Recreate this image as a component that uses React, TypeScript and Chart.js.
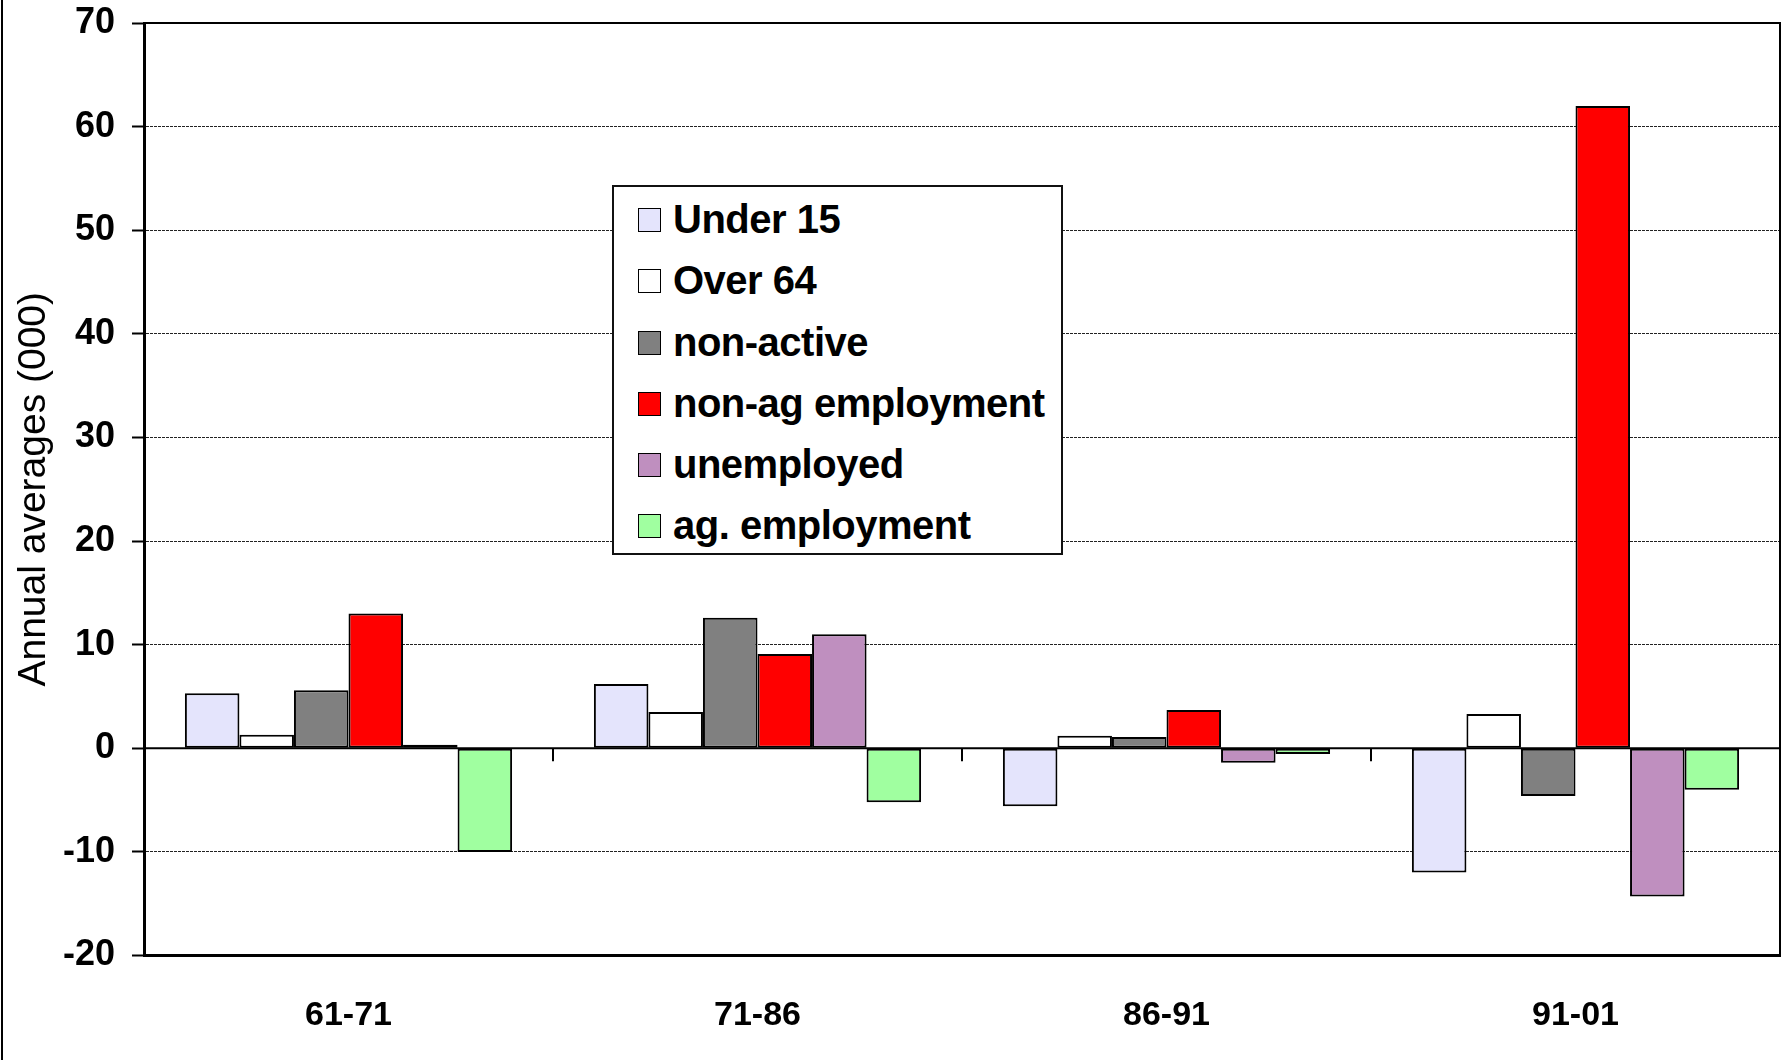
import React, { useEffect, useRef } from "react";
import { Chart, registerables } from "chart.js";

Chart.register(...registerables);

const categories = ["61-71", "71-86", "86-91", "91-01"];
const under15 = [5.3, 6.2, -5.6, -12.0];
const over64 = [1.3, 3.5, 1.2, 3.3];
const nonActive = [5.6, 12.6, 1.1, -4.6];
const nonAgEmployment = [13.0, 9.1, 3.7, 62.0];
const unemployed = [0.35, 11.0, -1.4, -14.3];
const agEmployment = [-10.0, -5.2, -0.55, -4.0];

const seriesNames = ["Under 15", "Over 64", "non-active", "non-ag employment", "unemployed", "ag. employment"];
const seriesColors = ["#E4E4FC", "#FFFFFF", "#808080", "#FF0000", "#BF8FBF", "#A0FFA0"];
const seriesValues = [under15, over64, nonActive, nonAgEmployment, unemployed, agEmployment];

const yMin = -20;
const yMax = 70;
const yStep = 10;
const yTitle = "Annual averages (000)";

const FONT = "'Liberation Sans', Arial, sans-serif";

const framePlugin = {
  id: "framePlugin",
  afterDatasetsDraw(chart: any) {
    const { ctx, chartArea, scales } = chart;
    const y = scales.y;
    const x = scales.x;
    const y0 = y.getPixelForValue(0);
    ctx.save();
    ctx.strokeStyle = "#000";
    ctx.lineWidth = 2;
    ctx.beginPath();
    ctx.moveTo(chartArea.left, y0);
    ctx.lineTo(chartArea.right, y0);
    ctx.stroke();
    const n = x.ticks.length;
    const w = (chartArea.right - chartArea.left) / n;
    for (let i = 1; i < n; i++) {
      const px = x.getPixelForValue(i) - w / 2;
      ctx.beginPath();
      ctx.moveTo(px, y0);
      ctx.lineTo(px, y0 + 13);
      ctx.stroke();
    }
    ctx.lineWidth = 2;
    ctx.beginPath();
    ctx.moveTo(chartArea.left, chartArea.top);
    ctx.lineTo(chartArea.right, chartArea.top);
    ctx.lineTo(chartArea.right, chartArea.bottom);
    ctx.stroke();
    ctx.restore();
  },
};

export default function App() {
  const canvasRef = useRef<HTMLCanvasElement | null>(null);

  useEffect(() => {
    document.body.style.margin = "0";
    const canvas = canvasRef.current;
    if (!canvas) return;
    const chart = new Chart(canvas, {
      type: "bar",
      data: {
        labels: categories,
        datasets: seriesNames.map((name, i) => ({
          label: name,
          data: seriesValues[i],
          backgroundColor: seriesColors[i],
          borderColor: "#000",
          borderWidth: 2,
          borderSkipped: false,
          categoryPercentage: 0.8,
          barPercentage: 1.0,
        })),
      },
      options: {
        animation: false,
        responsive: false,
        maintainAspectRatio: false,
        layout: { padding: { top: 23, right: 7, left: 0, bottom: 0 } },
        plugins: {
          legend: { display: false },
          tooltip: { enabled: false },
        },
        scales: {
          x: {
            grid: { display: false, drawTicks: false },
            border: { display: true, color: "#000", width: 3 },
            ticks: {
              color: "#000",
              font: { family: FONT, size: 34, weight: "bold" },
              padding: 40,
              maxRotation: 0,
            },
            afterFit(scale: any) {
              scale.height = 104.5;
              scale.paddingLeft = 0;
              scale.paddingRight = 0;
            },
          },
          y: {
            min: yMin,
            max: yMax,
            ticks: {
              stepSize: yStep,
              color: "#000",
              font: { family: FONT, size: 36, weight: "bold" },
              padding: 17,
            },
            grid: {
              color: (ctx: any) => (ctx.tick && ctx.tick.value === 0 ? "rgba(0,0,0,0)" : "#222"),
              lineWidth: 1,
              tickColor: "#000",
              tickLength: 12,
              tickWidth: 2,
              tickBorderDash: [],
            },
            border: { display: true, color: "#000", width: 3, dash: [3, 1] },
            title: {
              display: true,
              text: yTitle,
              color: "#000",
              font: { family: FONT, size: 39, weight: "normal" },
              padding: { top: 11, bottom: 0 },
            },
            afterFit(scale: any) {
              scale.width = 144;
              scale.paddingTop = 0;
              scale.paddingBottom = 0;
            },
          },
        },
      },
      plugins: [framePlugin],
    });
    return () => chart.destroy();
  }, []);

  return (
    <div style={{ position: "relative", width: 1787, height: 1060, background: "#fff", overflow: "hidden" }}>
      <canvas ref={canvasRef} width={1787} height={1060} style={{ position: "absolute", left: 0, top: 0, width: 1787, height: 1060 }} />
      <div style={{ position: "absolute", left: 1, top: 0, width: 2, height: 1060, background: "#000" }} />
      <div
        style={{
          position: "absolute",
          left: 612,
          top: 185,
          width: 447,
          height: 363,
          border: "2px solid #111",
          background: "#fff",
          boxSizing: "content-box",
          paddingTop: 3,
        }}
      >
        {seriesNames.map((name, i) => (
          <div key={name} style={{ height: 61.3, display: "flex", alignItems: "center", position: "relative" }}>
            <div
              style={{
                position: "absolute",
                left: 24,
                top: 18,
                width: 21,
                height: 22,
                background: seriesColors[i],
                border: "1.5px solid #000",
              }}
            />
            <span
              style={{
                position: "absolute",
                left: 59,
                top: 6,
                fontFamily: FONT,
                fontWeight: "bold",
                fontSize: 40,
                letterSpacing: -0.5,
                lineHeight: "46px",
                color: "#000",
                whiteSpace: "nowrap",
              }}
            >
              {name}
            </span>
          </div>
        ))}
      </div>
    </div>
  );
}
